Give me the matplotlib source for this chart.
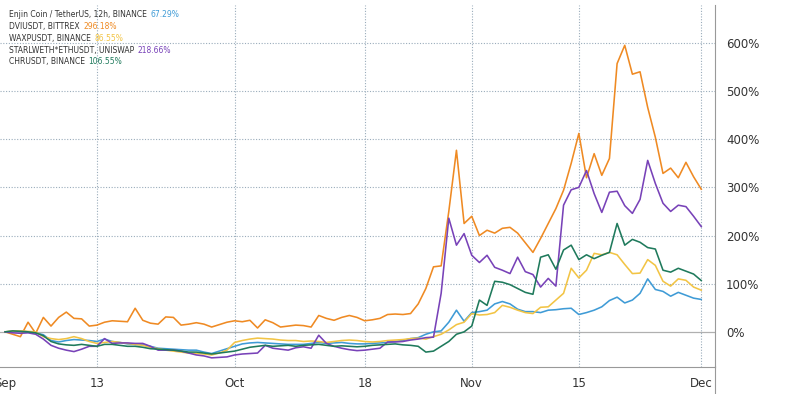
import numpy as np
import pandas as pd
import matplotlib
matplotlib.use('Agg')
import matplotlib.pyplot as plt
import matplotlib.dates as mdates

# Daily closes, % change since Sep 1 2021
dates = pd.date_range('2021-09-01', '2021-12-01', freq='D')

enj = [0, 1, 2, 0, -2, -6, -18, -21, -18, -16, -17, -18, -20, -15, -20, -22,
       -25, -26, -27, -30, -34, -35, -36, -37, -38, -38, -42, -45, -40, -35,
       -30, -25, -23, -22, -23, -24, -25, -26, -26, -26, -24, -22, -24, -23,
       -22, -24, -25, -25, -24, -23, -22, -20, -18, -14, -12, -5, 0, 2, 20,
       45, 22, 40, 42, 45, 58, 63, 58, 47, 42, 42, 40, 45, 46, 48, 49, 36, 40,
       45, 52, 65, 72, 60, 66, 80, 110, 88, 84, 74, 82, 76, 70, 67.29]

dvi = [0, -5, -10, 20, -3, 30, 12, 30, 41, 28, 27, 12, 14, 20, 23, 22, 21,
       49, 24, 18, 16, 31, 30, 14, 16, 19, 16, 10, 15, 20, 23, 21, 24, 8, 25,
       19, 10, 12, 14, 13, 10, 34, 28, 24, 30, 34, 30, 23, 25, 28, 36, 37, 36,
       38, 58, 90, 135, 137, 250, 377, 225, 240, 200, 211, 205, 215, 217, 205,
       185, 165, 194, 225, 256, 294, 350, 412, 320, 370, 325, 360, 557, 595,
       535, 540, 466, 404, 329, 340, 320, 352, 322, 296.18]

waxp = [0, 2, 2, 1, 0, -10, -14, -16, -14, -10, -14, -20, -24, -22, -20, -22,
        -24, -26, -28, -32, -35, -38, -40, -42, -44, -45, -46, -48, -44, -38,
        -22, -18, -15, -13, -14, -15, -17, -18, -18, -20, -19, -20, -22, -20,
        -18, -17, -18, -20, -21, -20, -18, -17, -16, -14, -13, -15, -10, -5, 4,
        15, 20, 38, 35, 36, 40, 55, 51, 45, 40, 38, 51, 52, 66, 80, 132, 112,
        128, 163, 160, 165, 160, 140, 121, 122, 150, 138, 105, 95, 110, 107, 93,
        86.55]

starl = [0, -2, -3, -2, -5, -15, -28, -34, -38, -41, -36, -30, -30, -14, -24,
         -23, -23, -24, -24, -30, -38, -38, -38, -40, -44, -48, -50, -54, -53,
         -52, -48, -46, -45, -44, -28, -34, -36, -38, -33, -31, -34, -7, -24,
         -30, -34, -37, -39, -38, -36, -34, -21, -21, -20, -17, -15, -12, -11,
         80, 236, 180, 204, 159, 144, 159, 134, 128, 121, 155, 125, 119, 93, 111,
         95, 263, 295, 300, 335, 287, 248, 290, 292, 262, 246, 275, 356, 308,
         267, 250, 263, 260, 240, 218.66]

chr_ = [0, 2, 1, 0, -2, -8, -20, -25, -27, -28, -26, -28, -30, -26, -26, -28,
        -30, -30, -32, -35, -36, -37, -38, -40, -42, -42, -44, -46, -44, -42,
        -40, -36, -32, -30, -28, -30, -29, -28, -30, -28, -27, -26, -28, -30,
        -29, -30, -31, -30, -28, -27, -26, -25, -27, -28, -30, -42, -40, -30,
        -20, -5, 0, 12, 66, 55, 105, 103, 98, 90, 82, 78, 155, 160, 130, 170,
        180, 150, 160, 152, 159, 165, 225, 180, 192, 186, 175, 172, 128, 124,
        132, 126, 120, 106.55]

names = ['Enjin Coin / TetherUS, 12h, BINANCE', 'DVIUSDT, BITTREX',
         'WAXPUSDT, BINANCE', 'STARLWETH*ETHUSDT, UNISWAP', 'CHRUSDT, BINANCE']
series = [enj, dvi, waxp, starl, chr_]
colors = ['#3f9bd6', '#ef8a23', '#f2c445', '#7842b8', '#1f7a5c']

yticks = [0, 100, 200, 300, 400, 500, 600]
xticks = pd.to_datetime(['2021-09-01', '2021-09-13', '2021-10-01',
                         '2021-10-18', '2021-11-01', '2021-11-15', '2021-12-01'])
xlabels = ['Sep', '13', 'Oct', '18', 'Nov', '15', 'Dec']

fig = plt.figure(figsize=(7.9, 3.94), dpi=100)
ax = fig.add_axes([0.0, 0.0685, 0.905, 0.918])

grid_c = '#9aacbb'
for t in xticks[1:]:
    ax.axvline(t, color=grid_c, lw=0.8, ls=(0, (1, 1.5)), zorder=0)
for v in yticks[1:]:
    ax.axhline(v, color=grid_c, lw=0.8, ls=(0, (1, 1.5)), zorder=0)
ax.axhline(0, color='#b0b0b0', lw=0.9, zorder=0)

for s, c in zip(series, colors):
    ax.plot(dates, s, color=c, lw=1.15)

ax.set_ylim(-73, 678)
ax.set_xlim(dates[0] - pd.Timedelta(hours=16), dates[-1] + pd.Timedelta(hours=43))

ax.yaxis.tick_right()
ax.set_yticks(yticks)
ax.set_yticklabels([f'{v}%' for v in yticks])
ax.set_xticks(xticks)
ax.set_xticklabels(xlabels)
ax.tick_params(length=0, labelsize=8.5, colors='#333333', pad=7)
ax.tick_params(axis='y', pad=8)

for sp in ['top', 'left']:
    ax.spines[sp].set_visible(False)
ax.spines['bottom'].set_color('#999999')
ax.spines['right'].set_color('#999999')
ax.spines['right'].set_linewidth(0.8)
ax.spines['bottom'].set_linewidth(0.8)
# right scale border runs down through the date strip
fig.add_artist(plt.Line2D([0.905, 0.905], [0, 0.07], color='#999999', lw=0.8))

# legend block, top left
y0 = 0.962
for i, (n, s, c) in enumerate(zip(names, series, colors)):
    yy = y0 - i * 0.0297
    t = fig.text(0.011, yy, n + ' ', fontsize=5.5, color='#333333', va='center')
    fig.canvas.draw()
    bb = t.get_window_extent()
    fig.text(bb.x1 / fig.bbox.width + 0.002, yy, f'{s[-1]:.2f}%', fontsize=5.5,
             color=c, va='center')

plt.savefig('out.png', dpi=100)
